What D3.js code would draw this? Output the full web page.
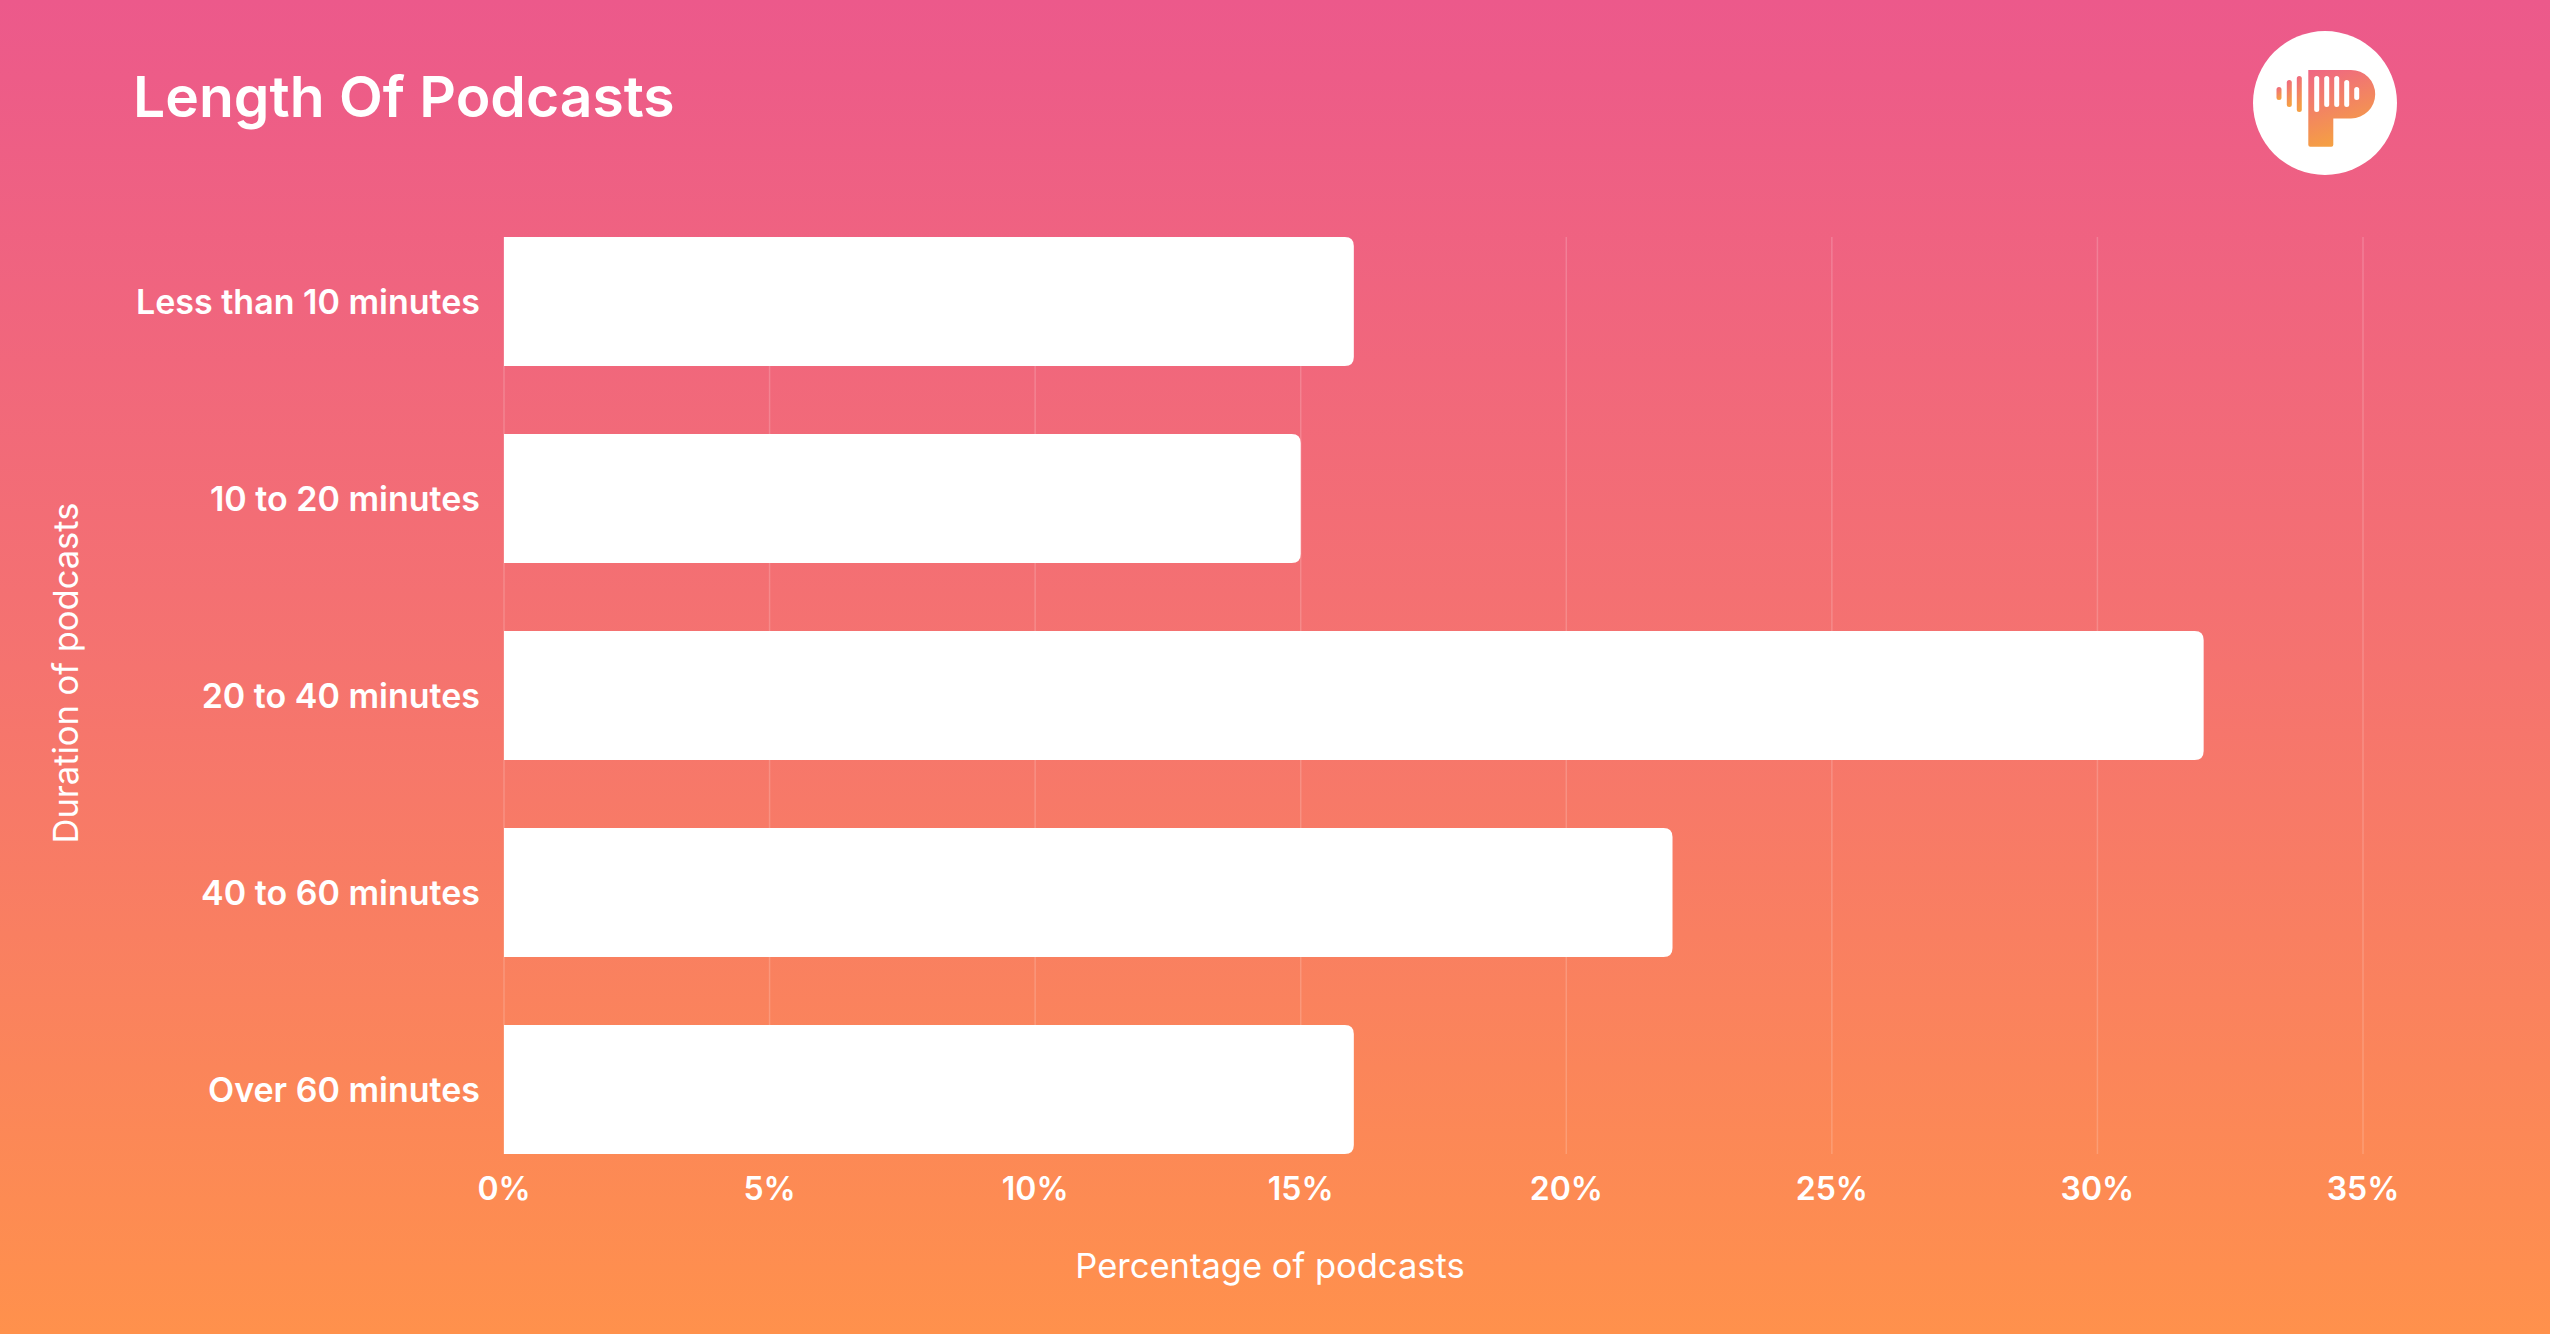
<!DOCTYPE html>
<html>
<head>
<meta charset="utf-8">
<script src="https://cdn.jsdelivr.net/npm/d3@7"></script>
<style>
  html, body { margin: 0; padding: 0; overflow: hidden; }
  text { font-family: Inter, "Noto Sans", sans-serif; fill: #fff; }
</style>
</head>
<body>
<svg id="chart" width="2550" height="1334"></svg>
<script>
var categories = ['Less than 10 minutes', '10 to 20 minutes', '20 to 40 minutes', '40 to 60 minutes', 'Over 60 minutes'] ;
var values = [16, 15, 32, 22, 16] ;
var ticks = [0, 5, 10, 15, 20, 25, 30, 35] ;
var title = 'Length Of Podcasts' ;
var xTitle = 'Percentage of podcasts' ;
var yTitle = 'Duration of podcasts' ;

var width = 2550, height = 1334 ;
var svg = d3.select('#chart') ;
var defs = svg.append('defs') ;

var bg = defs.append('linearGradient').attr('id','bg').attr('x1',0).attr('y1',0).attr('x2',0).attr('y2',1) ;
bg.append('stop').attr('offset','0%').attr('stop-color','#ec598b') ;
bg.append('stop').attr('offset','50%').attr('stop-color','#f5736f') ;
bg.append('stop').attr('offset','100%').attr('stop-color','#ff914c') ;

var lg = defs.append('linearGradient').attr('id','logo').attr('x1',0).attr('y1',0).attr('x2',0.3).attr('y2',1) ;
lg.append('stop').attr('offset','0%').attr('stop-color','#ef6585') ;
lg.append('stop').attr('offset','100%').attr('stop-color','#f5a043') ;

svg.append('rect').attr('width',width).attr('height',height).attr('fill','url(#bg)') ;

var x = d3.scaleLinear().domain([0,35]).range([504,2363]) ;
var y = d3.scaleBand().domain(categories).range([237,1154]).paddingInner(0.345).paddingOuter(0) ;

// grid
svg.append('g').selectAll('line').data(ticks).join('line')
	.attr('x1',d => x(d)).attr('x2',d => x(d))
	.attr('y1',y.range()[0]).attr('y2',y.range()[1])
	.attr('stroke','#fff').attr('stroke-opacity',0.18).attr('stroke-width',1.5) ;

// bars, rounded on the right only
function barPath(x0,x1,y0,h,r) {
	return 'M'+x0+','+y0+' H'+(x1-r)+' Q'+x1+','+y0+' '+x1+','+(y0+r)+
		' V'+(y0+h-r)+' Q'+x1+','+(y0+h)+' '+(x1-r)+','+(y0+h)+' H'+x0+' Z' ;
}
svg.append('g').selectAll('path').data(values).join('path')
	.attr('d',(d,i) => barPath(x(0),x(d),y(categories[i]),y.bandwidth(),9))
	.attr('fill','#fff') ;

// category labels
svg.append('g').selectAll('text').data(categories).join('text')
	.attr('x',480).attr('y',d => y(d)+y.bandwidth()/2)
	.attr('text-anchor','end').attr('dominant-baseline','central')
	.attr('font-size',34).attr('font-weight',600)
	.text(d => d) ;

// tick labels
svg.append('g').selectAll('text').data(ticks).join('text')
	.attr('x',d => x(d)).attr('y',1188)
	.attr('text-anchor','middle').attr('dominant-baseline','central')
	.attr('font-size',32).attr('font-weight',600)
	.text(d => d + '%') ;

svg.append('text').attr('x',1270).attr('y',1265)
	.attr('text-anchor','middle').attr('dominant-baseline','central')
	.attr('font-size',34.5).attr('font-weight',400).text(xTitle) ;

svg.append('text').attr('transform','translate(65,673) rotate(-90)')
	.attr('text-anchor','middle').attr('dominant-baseline','central')
	.attr('font-size',34.5).attr('font-weight',400).text(yTitle) ;

svg.append('text').attr('x',133).attr('y',117)
	.attr('font-size',57).attr('font-weight',600).text(title) ;

// logo
var logo = svg.append('g').attr('transform','translate(2325,103)') ;
logo.append('circle').attr('r',72).attr('fill','#fff') ;
logo.append('path').attr('fill','url(#logo)')
	.attr('d','M-16.7,-33 H26 A24.2,24.2 0 0 1 26,15.4 H8.3 V41.7 Q8.3,43.7 6.3,43.7 H-14.7 Q-16.7,43.7 -16.7,41.7 Z') ;
var outer = [[-46,-16,-3],[-35.7,-23,4],[-25.7,-27,9]] ;
logo.selectAll('rect.o').data(outer).join('rect').attr('class','o')
	.attr('x',d => d[0]-2.5).attr('y',d => d[1]).attr('width',5).attr('height',d => d[2]-d[1]).attr('rx',2.5)
	.attr('fill','url(#logo)') ;
var slits = [[-8.3,-27,9],[1.7,-27,4],[11.7,-27,4],[21.7,-23,4],[31.7,-16,-3]] ;
logo.selectAll('rect.s').data(slits).join('rect').attr('class','s')
	.attr('x',d => d[0]-2.5).attr('y',d => d[1]).attr('width',5).attr('height',d => d[2]-d[1]).attr('rx',2.5)
	.attr('fill','#fff') ;
</script>
</body>
</html>
